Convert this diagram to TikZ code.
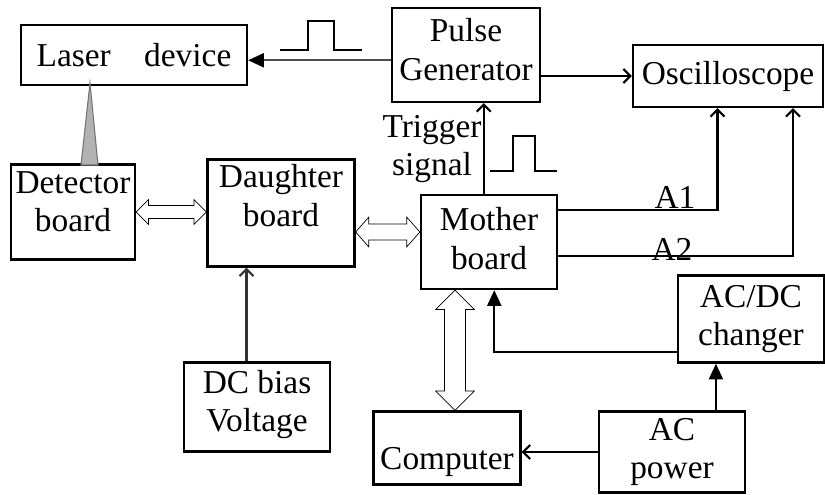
\documentclass[tikz,border=0pt]{standalone}
\usepackage{fontspec}
\setmainfont{Liberation Serif}
\usetikzlibrary{calc}
\usetikzlibrary{arrows.meta}
\tikzset{
  block/.style={draw, line width=1.3pt, align=center, inner sep=0pt,
    font=\fontsize{19}{22}\selectfont},
  boxsize/.style 2 args={minimum width=#1*0.02cm, minimum height=#2*0.02cm},
  wire/.style={line width=1.2pt},
  tip/.style={-{Straight Barb[length=4pt,width=8pt]}},
  solidtip/.style={-{Triangle[length=9pt,width=8pt,color=black]}},
  bus/.style args={#1/#2/#3}{
    draw=black!60, line width=0.9pt, fill=white,
    to path={
      (\tikztostart) -- ($(\tikztostart)!#1!(\tikztotarget)!#2!90:(\tikztotarget)$)
      -- ($(\tikztostart)!#1!(\tikztotarget)!#3!90:(\tikztotarget)$)
      -- ($(\tikztotarget)!#1!(\tikztostart)!#3!-90:(\tikztostart)$)
      -- ($(\tikztotarget)!#1!(\tikztostart)!#2!-90:(\tikztostart)$)
      -- (\tikztotarget)
      -- ($(\tikztotarget)!#1!(\tikztostart)!#2!90:(\tikztostart)$)
      -- ($(\tikztotarget)!#1!(\tikztostart)!#3!90:(\tikztostart)$)
      -- ($(\tikztostart)!#1!(\tikztotarget)!#3!-90:(\tikztotarget)$)
      -- ($(\tikztostart)!#1!(\tikztotarget)!#2!-90:(\tikztotarget)$)
      -- cycle
    }
  }
}

\begin{document}
\begin{tikzpicture}[x=0.02cm, y=-0.02cm]
\useasboundingbox (0,0) rectangle (825,494);

% blocks
\node[block, boxsize={226}{60}] (las) at (134,55) {Laser\quad device};
\node[block, boxsize={148}{94}, text depth=6pt] (pul) at (466,55) {Pulse\\Generator};
\node[block, boxsize={190}{62}] (osc) at (728,76) {Oscilloscope};
\node[block, boxsize={124}{95}, text depth=12pt] (det) at (73,212) {Detector\\board};
\node[block, boxsize={147}{107}, text depth=20pt] (dau) at (281,213) {Daughter\\board};
\node[block, boxsize={136}{94}, text depth=4pt] (mot) at (489,242) {Mother\\board};
\node[block, boxsize={146}{89}, text depth=7pt] (dcb) at (257,407) {DC bias\\Voltage};
\node[block, boxsize={147}{73}, text height=28pt] (cmp) at (447,448) {Computer};
\node[block, boxsize={146}{81}] (acp) at (672,452) {AC\\power};
\node[block, boxsize={146}{87}] (acd) at (751,319) {AC/DC\\changer};

% labels
\node[font=\fontsize{19}{22}\selectfont, align=center] (trg) at (432,149) {Trigger\\signal};
\node[font=\fontsize{19}{22}\selectfont] (a1) at (675,197) {A1};
\node[font=\fontsize{19}{22}\selectfont] (a2) at (672,249) {A2};

% light from laser to detector
\filldraw[draw=black!55, fill=black!30, line width=0.6pt] (90,83) -- (81,165) -- (98,165) -- cycle;

% signal lines
\draw[wire, solidtip, black!70] ([yshift=-3pt]pul.west) -- ([yshift=-3pt]las.east);
\draw[wire, tip] (pul.east |- osc.west) -- (osc.west);
\draw[wire, tip] ([xshift=-3pt]mot.north) -- ([xshift=-3pt]mot.north |- pul.south);
\draw[wire, tip] ([yshift=18pt]mot.east) -| ([xshift=-6pt]osc.south);
\draw[wire, tip] ([yshift=-8pt]mot.east) -| ([xshift=37pt]osc.south);
\draw[wire, tip, black!80] ([xshift=-6pt]dcb.north) -- ([xshift=-6pt]dcb.north |- dau.south);
\draw[wire, solidtip] ([yshift=-19pt]acd.west) -| ([xshift=3pt]mot.south);
\draw[wire, solidtip] ([xshift=25pt]acp.north) -- ([xshift=25pt]acp.north |- acd.south);
\draw[wire, tip] (acp.west) -- (acp.west -| cmp.east);

% pulses
\draw[wire] (280,50) -- (308,50) -- (308,21) -- (334,21) -- (334,50) -- (362,50);
\draw[wire] (490,171) -- (513,171) -- (513,136) -- (535,136) -- (535,171) -- (557,171);

% buses
\draw (det.east) to[bus=7pt/7pt/3.7pt] (det.east -| dau.west);
\draw (dau.east) ++(0,19) coordinate (b1) to[bus=7.5pt/8.5pt/4.5pt] (b1 -| mot.west);
\draw (cmp.north) ++(8,0) coordinate (b2) to[bus=11pt/11pt/6pt] (b2 |- mot.south);
\end{tikzpicture}
\end{document}
